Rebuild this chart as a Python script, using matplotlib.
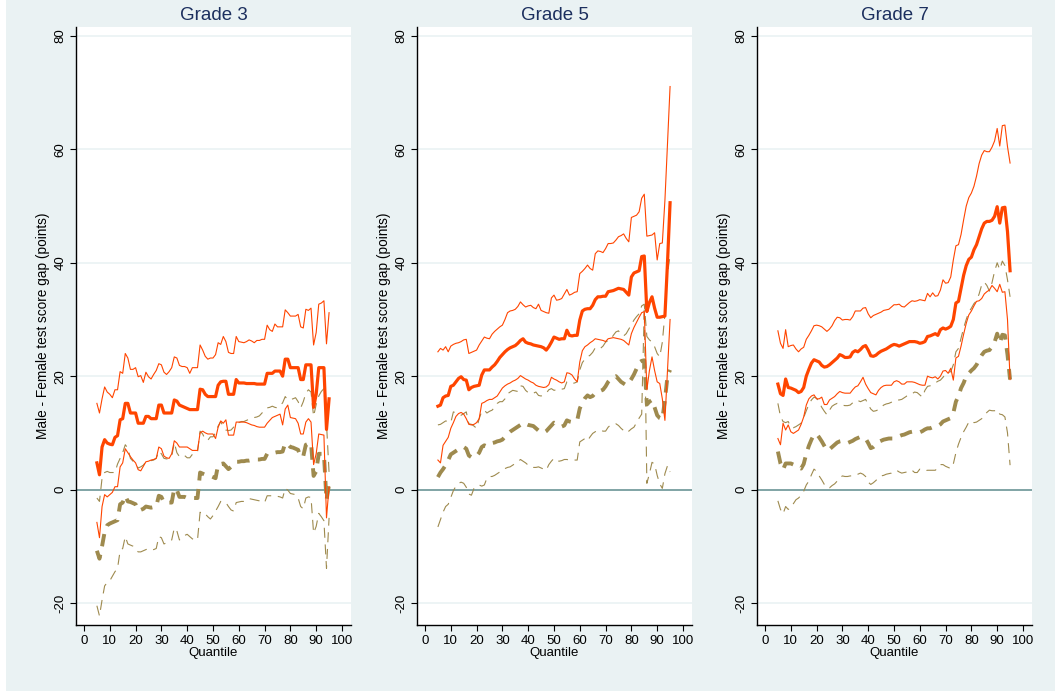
import matplotlib
matplotlib.use("Agg")
import matplotlib.pyplot as plt
from matplotlib.patches import Rectangle

plt.rcParams['font.family'] = ['Liberation Sans', 'DejaVu Sans']

# quantiles 5..95
quantile = list(range(5, 96))

grades = ['Grade 3', 'Grade 5', 'Grade 7']

# ---- Grade 3 ----
g3_est = [4.7, 2.6, 7.5, 8.8, 8.2, 8.0, 7.9, 9.2, 9.5, 12.3,
          12.5, 15.2, 15.2, 13.5, 13.5, 13.5, 11.7, 11.7, 11.7, 12.9,
          12.9, 12.5, 12.5, 12.5, 14.9, 14.9, 13.5, 13.5, 13.5, 13.5,
          15.8, 15.6, 14.9, 14.7, 14.5, 14.3, 14.1, 14.1, 14.1, 14.1,
          17.7, 17.6, 16.8, 16.4, 16.4, 16.4, 16.4, 18.4, 19.0, 19.1,
          19.1, 16.8, 16.8, 16.8, 19.4, 18.8, 18.8, 18.8, 18.7, 18.7,
          18.7, 18.7, 18.6, 18.6, 18.6, 18.6, 20.5, 20.5, 20.5, 20.9,
          20.9, 20.9, 20.0, 23.0, 23.0, 21.5, 21.5, 21.5, 21.5, 19.4,
          19.4, 22.0, 22.0, 22.0, 14.5, 16.8, 21.5, 21.5, 21.5, 10.6,
          16.0]
g3_hi = [15.2, 13.5, 16.0, 18.1, 17.2, 16.8, 16.2, 17.6, 17.6, 20.8,
         20.5, 24.0, 23.2, 21.2, 21.2, 21.5, 19.9, 20.1, 18.9, 20.7,
         19.9, 19.5, 20.3, 21.0, 22.2, 22.0, 20.7, 20.3, 20.8, 21.5,
         23.4, 23.2, 21.9, 21.7, 21.7, 21.5, 20.5, 21.5, 21.5, 21.5,
         25.5, 24.6, 23.5, 23.0, 23.2, 23.2, 23.8, 25.9, 25.6, 27.0,
         26.1, 24.2, 24.0, 24.0, 27.0, 26.1, 26.0, 25.9, 26.1, 26.4,
         26.2, 25.9, 26.3, 26.3, 26.5, 26.5, 29.0, 28.2, 27.9, 29.2,
         28.7, 28.7, 28.7, 31.7, 31.2, 30.6, 30.6, 30.6, 30.9, 28.7,
         28.5, 31.8, 31.6, 32.0, 25.5, 27.7, 32.7, 32.9, 33.3, 25.7,
         31.2]
g3_lo = [-5.8, -8.5, -3.0, -0.9, -1.3, -0.9, -0.5, 0.5, 0.5, 4.0,
         4.7, 7.2, 6.5, 5.8, 5.2, 4.7, 3.5, 3.3, 4.1, 4.9,
         5.0, 5.2, 5.3, 5.5, 7.5, 7.2, 5.9, 5.6, 5.5, 6.3,
         8.6, 8.2, 7.5, 7.5, 7.5, 7.5, 7.2, 6.9, 6.9, 6.9,
         10.0, 10.3, 10.0, 9.8, 9.8, 9.8, 9.0, 11.0, 12.1, 11.7,
         12.3, 9.6, 9.6, 9.6, 11.9, 11.9, 11.9, 11.9, 11.8, 11.6,
         11.4, 11.3, 11.1, 11.0, 11.0, 11.0, 11.7, 12.2, 12.7, 12.9,
         13.1, 13.3, 11.4, 14.2, 14.9, 12.7, 12.6, 12.5, 11.7, 9.8,
         9.8, 11.9, 12.5, 11.9, 4.4, 6.3, 9.8, 9.7, 9.6, -5.0,
         0.5]
g3_b_est = [-10.8, -12.2, -10.0, -7.5, -6.3, -6.0, -5.8, -5.6, -5.4, -2.6,
            -2.3, -1.1, -2.1, -2.2, -2.4, -2.6, -3.7, -3.6, -3.4, -3.0,
            -3.1, -3.2, -3.1, -3.0, -1.1, -1.3, -2.3, -2.3, -2.3, -2.3,
            0.2, -0.1, -1.3, -1.3, -1.3, -1.5, -1.5, -1.5, -1.5, -1.5,
            3.0, 2.8, 2.6, 2.5, 2.4, 2.2, 2.0, 4.4, 4.5, 4.6,
            4.1, 3.6, 4.0, 4.4, 4.9, 4.9, 5.0, 5.0, 5.1, 5.1,
            5.2, 5.2, 5.3, 5.3, 5.4, 5.4, 6.3, 6.4, 6.5, 6.5,
            6.6, 6.6, 6.7, 8.2, 8.0, 7.5, 7.4, 7.2, 7.0, 5.7,
            5.9, 7.9, 8.1, 8.2, 2.4, 3.2, 6.3, 6.3, 6.3, -1.9,
            0.9]
g3_b_hi = [-1.5, -2.1, 2.0, 3.0, 3.2, 3.0, 3.0, 3.0, 4.5, 5.5,
           6.5, 7.9, 7.3, 5.5, 5.0, 4.5, 3.8, 4.0, 4.3, 4.9,
           5.0, 5.1, 5.2, 5.5, 6.8, 6.3, 5.5, 5.4, 5.5, 5.8,
           8.3, 6.5, 5.8, 6.0, 6.0, 5.6, 5.6, 6.2, 6.5, 6.6,
           10.3, 9.8, 8.8, 8.7, 9.3, 9.3, 10.0, 11.2, 12.0, 11.0,
           10.5, 10.4, 10.5, 11.0, 11.7, 11.8, 12.0, 12.0, 12.2, 12.4,
           12.5, 12.7, 12.8, 13.0, 13.5, 14.0, 14.4, 14.5, 14.7, 14.5,
           14.4, 14.8, 15.3, 16.4, 15.8, 15.9, 16.0, 16.2, 15.5, 14.4,
           15.5, 17.0, 17.6, 17.2, 12.9, 15.0, 16.5, 17.3, 17.8, 11.7,
           3.0]
g3_b_lo = [-20.5, -22.3, -19.5, -17.0, -16.4, -16.1, -15.3, -14.5, -13.9, -10.8,
           -10.4, -8.3, -9.6, -9.8, -10.0, -10.6, -11.0, -11.0, -10.8, -10.6,
           -10.4, -10.5, -10.6, -10.4, -8.3, -8.5, -9.6, -9.4, -9.2, -8.9,
           -6.8, -7.3, -8.9, -8.5, -8.1, -7.9, -8.3, -8.7, -8.9, -8.9,
           -4.0, -4.4, -4.3, -4.8, -5.2, -4.6, -3.8, -3.0, -2.1, -2.2,
           -2.3, -3.0, -3.6, -3.8, -2.3, -2.2, -2.1, -2.1, -1.9, -1.6,
           -1.7, -1.8, -1.9, -2.0, -2.2, -2.3, -1.1, -1.1, -1.1, -1.2,
           -1.2, -1.3, -1.5, 0.2, -0.1, -0.7, -0.8, -0.9, -1.5, -3.0,
           -3.4, -1.5, -1.3, -1.4, -7.7, -6.5, -4.2, -4.8, -5.5, -13.9,
           -5.0]

# ---- Grade 5 ----
g5_est = [14.7, 14.9, 16.2, 16.5, 16.6, 18.2, 18.4, 19.0, 19.6, 19.9,
          19.4, 19.3, 17.6, 18.0, 18.2, 18.3, 18.4, 20.2, 21.1, 21.1,
          21.1, 21.6, 22.0, 22.6, 23.3, 23.8, 24.3, 24.7, 25.0, 25.2,
          25.4, 25.8, 26.3, 26.6, 26.0, 25.8, 25.7, 25.5, 25.4, 25.3,
          25.2, 25.0, 24.6, 25.2, 26.0, 26.9, 26.7, 26.5, 26.6, 26.6,
          28.1, 27.2, 27.1, 27.2, 27.2, 29.9, 31.5, 31.8, 31.9, 31.9,
          32.5, 33.5, 34.0, 34.0, 34.1, 34.1, 34.9, 35.0, 35.1, 35.3,
          35.5, 35.4, 35.3, 34.8, 34.3, 37.5, 38.2, 38.4, 38.6, 41.1,
          41.2, 31.4, 33.0, 34.0, 32.0, 30.4, 30.4, 30.5, 30.6, 40.0,
          50.6]
g5_hi = [24.3, 24.9, 24.6, 25.2, 24.3, 25.3, 25.6, 25.8, 25.9, 26.1,
         26.4, 26.5, 24.0, 24.2, 24.4, 24.6, 25.5, 26.2, 26.9, 26.7,
         26.6, 27.4, 27.9, 28.3, 28.7, 29.0, 30.0, 31.2, 31.5, 31.6,
         31.8, 32.3, 33.1, 32.6, 32.2, 32.4, 32.5, 32.1, 31.9, 32.7,
         31.6, 31.4, 31.2, 31.1, 33.8, 34.3, 33.4, 33.5, 33.7, 34.5,
         35.3, 34.3, 34.5, 34.8, 34.9, 38.1, 38.5, 39.0, 39.6, 39.0,
         38.7, 41.6, 42.1, 42.0, 41.8, 42.5, 43.4, 43.4, 43.5, 44.0,
         44.6, 44.8, 45.1, 44.3, 43.7, 48.0, 48.2, 48.4, 49.0, 51.4,
         52.1, 44.7, 44.8, 44.9, 45.3, 40.5, 43.4, 43.5, 51.0, 61.0,
         71.1]
g5_lo = [5.2, 4.7, 7.8, 8.5, 9.2, 10.8, 11.8, 12.9, 13.4, 13.6,
         13.3, 12.5, 11.5, 11.4, 11.5, 11.8, 12.5, 15.2, 15.4, 15.7,
         15.9, 15.9, 16.2, 16.5, 17.2, 17.9, 18.3, 18.6, 18.8, 19.1,
         19.3, 19.6, 20.1, 19.8, 19.5, 19.3, 19.0, 18.8, 18.4, 18.2,
         18.1, 18.0, 18.1, 18.5, 19.8, 19.5, 19.3, 19.0, 18.8, 19.0,
         20.6, 20.5, 20.2, 19.5, 19.0, 22.5, 24.5, 25.2, 25.5, 25.9,
         26.2, 26.6, 26.5, 26.4, 26.3, 26.1, 26.6, 26.7, 26.8, 26.7,
         26.6, 26.5, 26.3, 25.9, 25.5, 27.5, 28.6, 29.5, 30.4, 31.2,
         31.4, 17.6, 21.0, 23.4, 21.0, 19.0, 18.7, 16.0, 12.2, 21.0,
         30.0]
g5_b_est = [2.2, 3.0, 3.6, 4.3, 5.2, 6.2, 6.5, 6.8, 7.1, 7.5,
            7.5, 7.2, 6.0, 5.7, 5.6, 5.9, 6.5, 7.5, 7.8, 7.6,
            7.9, 8.2, 8.3, 8.5, 8.6, 8.8, 9.3, 9.8, 10.2, 10.5,
            10.8, 11.1, 11.4, 11.8, 11.6, 11.4, 11.3, 11.2, 10.8, 10.4,
            10.2, 10.0, 10.3, 10.8, 11.3, 11.8, 11.6, 11.3, 11.1, 11.3,
            12.2, 12.0, 11.9, 12.1, 12.2, 14.3, 15.3, 16.1, 16.6, 16.3,
            16.5, 17.0, 17.3, 17.4, 17.6, 18.2, 19.0, 19.5, 19.8, 20.0,
            19.5, 19.0, 18.7, 18.4, 18.8, 19.5, 20.3, 21.3, 22.4, 22.7,
            22.8, 15.0, 15.5, 15.8, 14.5, 13.1, 12.6, 12.4, 15.8, 20.0,
            21.1]
g5_b_hi = [11.4, 11.5, 11.8, 12.1, 12.0, 11.8, 13.7, 13.5, 13.3, 13.1,
           13.4, 13.7, 11.6, 11.5, 11.2, 10.8, 12.5, 13.8, 14.0, 13.5,
           13.8, 14.0, 14.5, 15.2, 15.5, 15.5, 16.0, 16.9, 17.2, 17.5,
           17.4, 17.3, 18.3, 18.2, 17.5, 17.1, 16.9, 17.0, 17.2, 16.6,
           16.5, 16.7, 17.0, 17.6, 17.8, 17.5, 17.6, 17.5, 17.7, 17.8,
           19.0, 18.8, 18.7, 18.8, 19.0, 21.1, 22.4, 23.0, 23.4, 23.7,
           24.2, 25.0, 25.1, 24.9, 25.3, 26.0, 26.3, 26.5, 27.2, 27.8,
           28.0, 27.3, 27.1, 27.5, 28.3, 29.1, 29.9, 30.5, 31.0, 32.4,
           32.7, 27.0, 26.4, 26.0, 25.2, 24.0, 23.4, 26.0, 31.0, 38.0,
           41.4]
g5_b_lo = [-6.6, -5.3, -4.0, -3.0, -2.6, -1.4, -0.2, 0.6, 1.1, 1.3,
           1.1, 0.4, -0.8, -1.0, 0.2, 0.6, 0.8, 0.6, 0.8, 2.0,
           2.3, 2.3, 2.5, 2.8, 3.1, 3.4, 3.7, 3.9, 4.0, 4.3,
           4.6, 4.9, 5.3, 5.0, 4.7, 4.3, 4.0, 3.9, 3.9, 4.0,
           3.8, 3.6, 3.4, 4.4, 5.0, 5.5, 5.1, 5.0, 5.1, 5.3,
           5.3, 5.2, 5.2, 5.2, 5.2, 8.4, 8.7, 9.0, 8.6, 9.3,
           9.9, 10.2, 10.4, 10.5, 10.3, 10.3, 11.0, 11.4, 11.5, 11.6,
           11.3, 10.8, 10.4, 10.0, 10.3, 10.7, 11.0, 11.8, 12.6, 13.3,
           32.0, 1.1, 2.8, 4.8, 4.5, 2.5, 1.0, 0.2, 2.8, 4.2,
           3.1]

# ---- Grade 7 ----
g7_est = [18.6, 16.9, 16.6, 19.5, 18.0, 17.9, 17.7, 17.5, 17.1, 17.3,
          18.0, 20.0, 21.2, 22.3, 22.9, 22.7, 22.5, 21.9, 21.6, 21.7,
          22.0, 22.4, 22.8, 23.2, 23.8, 23.6, 23.3, 23.3, 23.4, 24.2,
          24.5, 24.3, 24.7, 25.2, 25.4, 24.6, 23.6, 23.5, 23.7, 24.1,
          24.4, 24.6, 24.8, 25.1, 25.4, 25.6, 25.5, 25.3, 25.5, 25.7,
          25.9, 26.1, 26.1, 26.1, 26.0, 25.8, 25.9, 26.1, 27.0, 27.1,
          27.3, 27.5, 27.2, 28.2, 28.5, 28.3, 28.5, 28.8, 30.0, 32.9,
          33.2, 35.5, 37.8, 39.5, 40.6, 41.0, 42.3, 43.2, 44.6, 46.0,
          47.0, 47.3, 47.3, 47.5, 48.2, 49.9, 47.0, 49.7, 49.8, 45.5,
          38.6]
g7_hi = [28.0, 25.8, 24.9, 28.2, 25.2, 25.4, 25.5, 24.8, 24.3, 24.8,
         25.1, 26.5, 27.2, 28.0, 28.9, 29.0, 28.9, 28.7, 28.3, 27.9,
         28.3, 28.9, 29.8, 30.4, 30.3, 29.9, 30.0, 30.0, 29.9, 30.5,
         31.5, 31.5, 31.5, 32.0, 32.1, 31.0, 30.3, 30.7, 30.9, 31.1,
         31.3, 31.6, 31.7, 31.8, 32.2, 32.6, 32.6, 32.7, 32.3, 32.2,
         32.6, 33.0, 33.3, 33.2, 33.3, 33.5, 33.4, 33.3, 34.6, 34.0,
         34.7, 34.1, 34.2, 35.2, 37.0, 36.4, 36.5, 37.5, 40.5, 43.0,
         43.2, 45.0, 47.6, 50.0, 51.5, 52.3, 53.5, 55.3, 57.5, 59.0,
         59.8, 59.6, 59.6, 60.4, 61.5, 63.7, 60.6, 64.2, 64.3, 60.5,
         57.6]
g7_lo = [9.0, 7.9, 11.7, 10.5, 11.4, 10.2, 9.9, 10.2, 10.5, 11.5,
         12.8, 14.9, 16.0, 16.5, 16.7, 16.0, 16.0, 16.3, 15.0, 15.0,
         15.8, 16.1, 16.4, 16.9, 17.3, 17.1, 17.0, 17.0, 17.0, 17.6,
         18.1, 18.3, 19.0, 19.8, 18.6, 17.8, 17.1, 16.9, 16.7, 17.5,
         18.0, 18.3, 18.4, 18.4, 18.4, 19.0, 19.2, 19.0, 18.6, 18.6,
         19.0, 19.0, 19.0, 18.9, 18.7, 18.5, 18.4, 18.4, 20.0, 19.8,
         19.7, 19.9, 19.5, 20.0, 20.9, 21.0, 20.5, 21.4, 19.3, 23.2,
         23.5, 25.3, 27.4, 29.3, 30.8, 31.5, 32.4, 33.2, 33.3, 33.7,
         34.5, 34.9, 35.2, 36.0, 35.5, 34.9, 36.2, 34.8, 34.9, 30.0,
         19.4]
g7_b_est = [6.7, 4.6, 3.5, 4.6, 4.6, 4.6, 4.4, 4.1, 3.9, 3.7,
            4.5, 6.3, 7.7, 8.8, 9.7, 9.8, 9.2, 8.5, 7.7, 6.9,
            7.1, 7.5, 7.9, 8.3, 8.5, 8.6, 8.4, 8.2, 8.4, 8.6,
            8.9, 9.1, 9.3, 9.2, 9.0, 8.2, 7.3, 7.5, 7.9, 8.4,
            8.6, 8.8, 8.9, 9.0, 9.0, 9.0, 9.2, 9.4, 9.6, 9.7,
            9.9, 10.1, 10.2, 10.1, 10.0, 10.1, 10.3, 10.6, 10.8, 10.8,
            11.0, 11.2, 11.2, 11.5, 12.0, 12.2, 12.4, 12.6, 13.5, 15.5,
            16.5, 17.9, 18.8, 20.0, 20.5, 21.0, 21.4, 22.0, 22.9, 23.7,
            24.3, 24.5, 24.6, 25.2, 26.0, 27.5, 25.8, 27.3, 27.2, 23.8,
            19.4]
g7_b_hi = [15.2, 12.9, 12.0, 11.8, 12.0, 11.0, 10.9, 11.1, 11.4, 11.7,
           12.7, 13.9, 15.0, 15.8, 16.3, 16.1, 15.4, 14.5, 13.8, 13.2,
           14.0, 14.7, 15.0, 15.2, 15.0, 14.9, 14.8, 14.8, 14.9, 15.3,
           15.7, 15.7, 15.5, 15.7, 15.9, 15.0, 14.2, 13.8, 13.9, 14.1,
           14.5, 14.9, 15.1, 15.2, 15.4, 15.6, 15.8, 15.8, 15.9, 16.2,
           16.5, 16.6, 16.9, 17.2, 17.1, 16.7, 16.3, 17.5, 18.2, 18.3,
           18.5, 18.8, 19.1, 19.3, 19.8, 20.4, 20.6, 20.8, 22.0, 24.3,
           24.9, 26.7, 28.5, 30.0, 31.3, 32.0, 32.8, 33.3, 34.5, 36.1,
           36.6, 36.0, 35.0, 36.5, 38.5, 40.0, 38.8, 40.3, 39.5, 37.0,
           34.0]
g7_b_lo = [-2.0, -3.5, -4.3, -3.0, -3.5, -3.3, -2.5, -1.8, -1.5, -1.0,
           -0.3, 0.8, 1.5, 2.6, 3.6, 3.2, 2.4, 1.7, 0.9, 0.3,
           0.3, 0.7, 1.0, 1.5, 2.1, 2.4, 2.3, 2.3, 2.4, 2.4,
           2.6, 2.7, 2.9, 2.7, 2.3, 1.3, 0.9, 1.2, 1.6, 2.1,
           2.4, 2.5, 2.7, 2.8, 2.9, 3.2, 3.4, 3.1, 2.9, 3.0,
           3.1, 3.4, 3.4, 3.0, 3.0, 3.6, 3.5, 3.3, 3.4, 3.4,
           3.4, 3.4, 3.8, 4.4, 4.4, 4.1, 3.9, 3.7, 4.5, 6.5,
           8.0, 9.2, 10.2, 11.0, 11.9, 12.1, 11.8, 11.9, 12.2, 12.5,
           13.0, 13.6, 14.0, 13.9, 13.9, 14.1, 13.3, 13.2, 12.8, 10.0,
           4.3]

panels = [
    (g3_est, g3_hi, g3_lo, g3_b_est, g3_b_hi, g3_b_lo),
    (g5_est, g5_hi, g5_lo, g5_b_est, g5_b_hi, g5_b_lo),
    (g7_est, g7_hi, g7_lo, g7_b_est, g7_b_hi, g7_b_lo),
]

bg = '#EAF2F3'
orange = '#FF4500'
olive = '#9E8A4E'

fig = plt.figure(figsize=(10.55, 6.91), dpi=100, facecolor=bg)
# thin white strip on the left edge
fig.patches.append(Rectangle((0, 0), 6 / 1055, 1, transform=fig.transFigure,
                             facecolor='white', edgecolor='none', zorder=-1))

lefts = [76, 417, 757]
for i, (est, hi, lo, b_est, b_hi, b_lo) in enumerate(panels):
    ax = fig.add_axes([lefts[i] / 1055, 1 - 625 / 691, 275 / 1055, 598 / 691])
    ax.set_facecolor('white')

    # grid and zero line
    for yv in [-20, 20, 40, 60, 80]:
        ax.axhline(yv, color=bg, lw=1.2, zorder=0)
    ax.axhline(0, color='#5E8C8D', lw=1.1, zorder=1)

    # second series (dashed)
    ax.plot(quantile, b_hi, color=olive, lw=0.8, ls=(0, (9, 6)))
    ax.plot(quantile, b_lo, color=olive, lw=0.8, ls=(0, (9, 6)))
    ax.plot(quantile, b_est, color=olive, lw=2.8, ls=(0, (3.2, 2.2)))

    # main series (solid)
    ax.plot(quantile, hi, color=orange, lw=0.8)
    ax.plot(quantile, lo, color=orange, lw=0.8)
    ax.plot(quantile, est, color=orange, lw=2.3)

    ax.set_xlim(-3.1, 103.5)
    ax.set_ylim(-23.9, 81.6)
    ax.set_xticks(range(0, 101, 10))
    ax.set_yticks([-20, 0, 20, 40, 60, 80])
    ax.set_yticklabels(['-20', '0', '20', '40', '60', '80'],
                       rotation=90, va='center')
    ax.tick_params(direction='out', length=4, width=0.8, labelsize=9.5, pad=3)

    for side in ['top', 'right']:
        ax.spines[side].set_visible(False)
    for side in ['left', 'bottom']:
        ax.spines[side].set_linewidth(1.0)

    ax.set_xlabel('Quantile', fontsize=9.5, labelpad=0)
    ax.set_ylabel('Male - Female test score gap (points)', fontsize=9.8,
                  labelpad=3)
    ax.set_title(grades[i], fontsize=13.5, color='#1C2F5E', pad=5)

fig.savefig('out.png', dpi=100, facecolor=bg)
